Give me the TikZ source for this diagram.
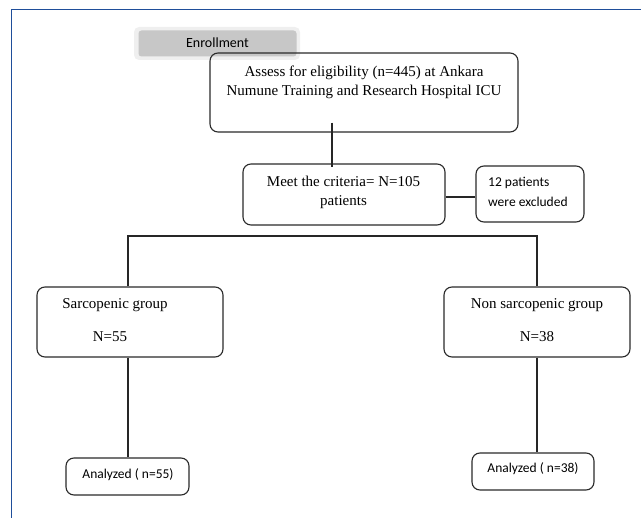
\documentclass[tikz,border=0pt]{standalone}
\usepackage{fontspec}
\setmainfont{Liberation Serif}
\newfontfamily\calfont{Carlito}
\usetikzlibrary{calc}
\definecolor{framecol}{HTML}{1F4E9A}
\definecolor{enrollfill}{HTML}{C7C7C7}
\definecolor{enrollhalo}{HTML}{EFEFEF}
\definecolor{boxline}{HTML}{2A2A2A}
\tikzset{
  flowbox/.style={draw=boxline, line width=1.1pt, rounded corners=8pt, inner sep=0pt},
  conn/.style={draw=black!85, line width=1.5pt},
  seriftxt/.style={font=\fontsize{15}{19}\selectfont, inner sep=0pt, align=center},
  caltxt/.style={font=\calfont\fontsize{13.5}{20}\selectfont, inner sep=0pt},
}
\begin{document}
\begin{tikzpicture}[x=1pt,y=-1pt]
\useasboundingbox (0,0) rectangle (641,518);
% frame
\draw[framecol, line width=1.8pt] (11.5,518) -- (11.5,9.5) -- (641,9.5);
% enrollment tab
\fill[enrollhalo, rounded corners=5pt] (134,27) rectangle (300,60);
\node[fill=enrollfill, rounded corners=3pt, minimum width=158pt, minimum height=26pt, inner sep=0pt] (enroll) at (217.5,43.5) {};
\node[caltxt, font=\calfont\fontsize{14}{20}\selectfont] (enrolltxt) at (217.5,43) {Enrollment};
% boxes
\node[flowbox, minimum width=308pt, minimum height=79pt] (assess) at (364,92.5) {};
\node[seriftxt] (assesstxt) at (364,82) {Assess for eligibility (n=445) at Ankara\\Numune Training and Research Hospital ICU};
\node[flowbox, minimum width=202pt, minimum height=61pt] (meet) at (344,194.5) {};
\node[seriftxt] (meettxt) at (343.5,192.5) {Meet the criteria= N=105\\patients};
\node[flowbox, minimum width=108pt, minimum height=56pt] (excl) at (530,194) {};
\node[caltxt, align=left, anchor=west] (excltxt) at (488,192) {12 patients\\were excluded};
\node[flowbox, minimum width=186pt, minimum height=70pt] (sarc) at (130,322) {};
\node[seriftxt] (sarctxt1) at (115,305) {Sarcopenic group};
\node[seriftxt] (sarctxt2) at (110,337) {N=55};
\node[flowbox, minimum width=186pt, minimum height=70pt] (nonsarc) at (537,322) {};
\node[seriftxt] (nonsarctxt1) at (537,305) {Non sarcopenic group};
\node[seriftxt] (nonsarctxt2) at (537,337) {N=38};
\node[flowbox, minimum width=123pt, minimum height=37pt] (anl) at (127.5,476.5) {};
\node[caltxt] (anltxt) at (128,474.5) {Analyzed ( n=55)};
\node[flowbox, minimum width=122pt, minimum height=37pt] (anr) at (533,471.5) {};
\node[caltxt] (anrtxt) at (533,469) {Analyzed ( n=38)};
% connectors
\coordinate (split) at (332,236);
\draw[conn] ([xshift=-32pt,yshift=10pt]assess.south) -- ([xshift=-12pt,yshift=-4pt]meet.north);
\draw[conn] ([yshift=-2.5pt]meet.east) -- ([yshift=-3pt]excl.west);
\draw[conn] ([xshift=-2pt]sarc.north) |- (split) -| (nonsarc.north);
\draw[conn] ([xshift=-2pt]sarc.south) -- ([xshift=0.5pt]anl.north);
\draw[conn] (nonsarc.south) -- (nonsarc.south |- anr.north);
\end{tikzpicture}
\end{document}
